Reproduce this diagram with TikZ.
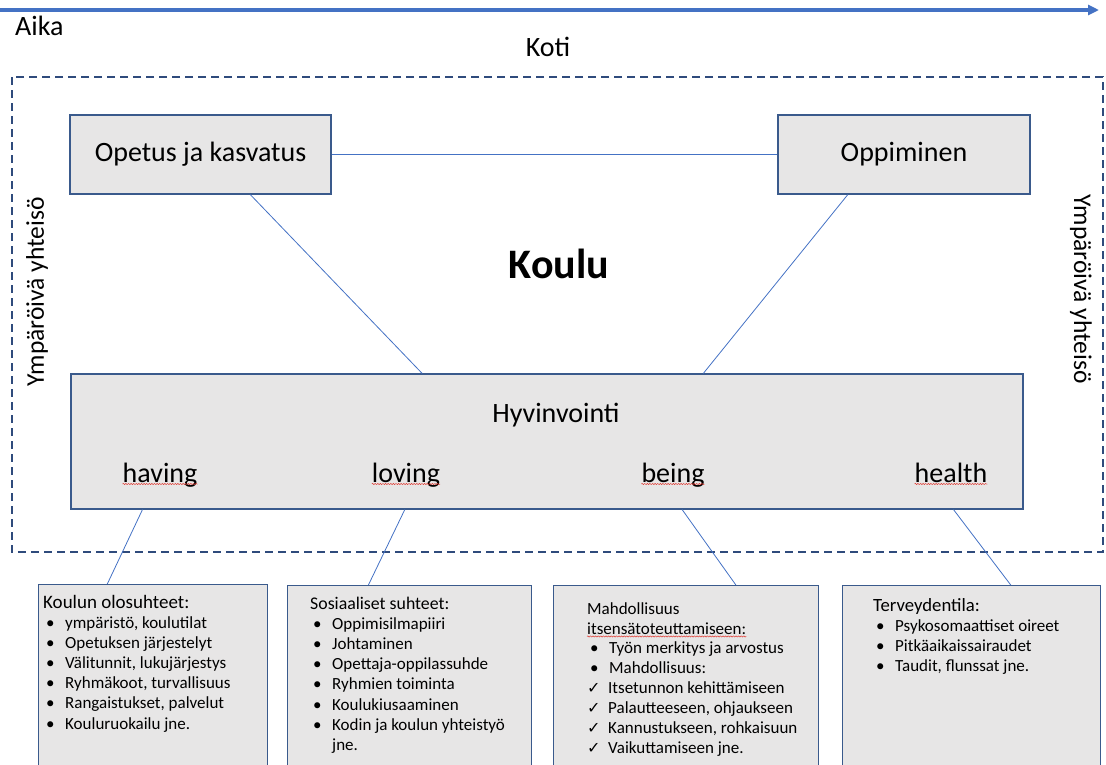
\documentclass[tikz,border=0pt]{standalone}
\usepackage{fontspec}
\setmainfont{Carlito}
\newfontfamily\symfont{DejaVu Sans}
\usetikzlibrary{arrows.meta,calc,decorations.pathmorphing,positioning}

\definecolor{boxfill}{HTML}{E7E6E6}
\definecolor{boxline}{HTML}{3A5A8C}
\definecolor{linkblue}{HTML}{4472C4}
\definecolor{framenavy}{HTML}{2F4B7C}
\definecolor{spellred}{HTML}{E03A32}

\newcommand\itm[1]{\hspace*{3pt}\makebox[19pt][l]{•}#1}
\newcommand\chk[1]{\makebox[21pt][l]{{\symfont\fontsize{16}{16}\selectfont ✓}}#1}
\newcommand\otsikko[2]{{\fontsize{#1}{20}\selectfont #2}}

\tikzset{
  iso/.style={inner sep=0pt, font=\fontsize{28}{34}\selectfont},
  sivu/.style={inner sep=0pt, font=\fontsize{25.5}{30}\selectfont},
  bigbox/.style={draw=boxline, fill=boxfill, line width=1.2pt, inner sep=0pt, font=\fontsize{28}{34}\selectfont},
  listbox/.style={draw=boxline, fill=boxfill, line width=1.2pt, anchor=north west, inner sep=0pt, minimum height=220},
  listtext/.style={anchor=north west, inner sep=0pt, align=left, font=\fontsize{17}{20.1}\selectfont},
  link/.style={draw=linkblue, line width=0.8pt},
  kehys/.style={draw=framenavy, line width=1.4pt, dash pattern=on 8pt off 5pt},
  aikanuoli/.style={draw=linkblue, line width=3.5pt, -{Triangle[length=11pt,width=10pt]}},
  squiggle/.style={draw=spellred, line width=0.5pt, decorate, decoration={snake, amplitude=0.6pt, segment length=2.6pt}},
}

\begin{document}
\begin{tikzpicture}[x=1pt,y=-1pt]
\useasboundingbox (0,0) rectangle (1106,764);

% aika ja koti
\coordinate (alku) at (0,10);
\coordinate (loppu) at (1099,10);
\draw[aikanuoli] (alku) -- (loppu);
\node[iso, anchor=base west] (aika) at (15,35) {Aika};
\node[iso, anchor=base] (koti) at (548,56) {Koti};

% ymparoiva yhteiso
\draw[kehys] (12,77) rectangle (1103,552);
\node[sivu, rotate=90] (yhteiso1) at (37,292) {Ympäröivä yhteisö};
\node[sivu, rotate=-90] (yhteiso2) at (1081,289) {Ympäröivä yhteisö};

% koulu
\node[bigbox, minimum width=261, minimum height=79] (opetus) at (200.5,154.5) {Opetus ja kasvatus};
\node[bigbox, minimum width=252, minimum height=79] (oppiminen) at (904,154.5) {Oppiminen};
\node[inner sep=0pt, font=\bfseries\fontsize{42}{50}\selectfont, anchor=base] (koulu) at (559,278) {Koulu};
\node[bigbox, minimum width=952, minimum height=135] (hyv) at (547,441.5) {};
\node[iso, anchor=base] (hyvotsikko) at (556,422) {Hyvinvointi};
\node[iso, anchor=base] (having) at (160,482) {having};
\node[iso, anchor=base] (loving) at (406,482) {loving};
\node[iso, anchor=base] (being) at (673,482) {being};
\node[iso, anchor=base] (health) at (951,482) {health};
\foreach \n in {having,loving,being,health}
  \draw[squiggle] ([shift={(0,2)}]\n.base west) -- ([shift={(0,2)}]\n.base east);

\draw[link] (opetus.east) -- (oppiminen.west);
\draw[link] ($(opetus.south west)!0.69!(opetus.south east)$) -- ($(hyv.north west)!0.369!(hyv.north east)$);
\draw[link] ($(oppiminen.south west)!0.278!(oppiminen.south east)$) -- ($(hyv.north west)!0.664!(hyv.north east)$);

% osa-alueet
\node[listbox, minimum width=229] (olosuhteet) at (38,584) {};
\node[listbox, minimum width=244] (suhteet) at (287,585) {};
\node[listbox, minimum width=265] (itsensa) at (553,585) {};
\node[listbox, minimum width=258] (terveys) at (842,585) {};

\node[listtext] (olosuhteetteksti) at ([shift={(5,11)}]olosuhteet.north west) {\otsikko{19}{Koulun olosuhteet:}\\
  \itm{ympäristö, koulutilat}\\
  \itm{Opetuksen järjestelyt}\\
  \itm{Välitunnit, lukujärjestys}\\
  \itm{Ryhmäkoot, turvallisuus}\\
  \itm{Rangaistukset, palvelut}\\
  \itm{Kouluruokailu jne.}};
\node[listtext] (suhteetteksti) at ([shift={(23,12)}]suhteet.north west) {\otsikko{17.8}{Sosiaaliset suhteet:}\\
  \itm{Oppimisilmapiiri}\\
  \itm{Johtaminen}\\
  \itm{Opettaja-oppilassuhde}\\
  \itm{Ryhmien toiminta}\\
  \itm{Koulukiusaaminen}\\
  \itm{Kodin ja koulun yhteistyö}\\
  \hspace*{22pt}jne.};
\node[listtext] (itsensaotsikko) at ([shift={(34,17)}]itsensa.north west) {Mahdollisuus\\itsensätoteuttamiseen:};
\draw[squiggle] ([shift={(0,2)}]itsensaotsikko.south west) -- ([shift={(0,2)}]itsensaotsikko.south east);
\node[listtext] (itsensateksti) at ([shift={(0,7)}]itsensaotsikko.south west) {\itm{Työn merkitys ja arvostus}\\
  \itm{Mahdollisuus:}\\
  \chk{Itsetunnon kehittämiseen}\\
  \chk{Palautteeseen, ohjaukseen}\\
  \chk{Kannustukseen, rohkaisuun}\\
  \chk{Vaikuttamiseen jne.}};
\node[listtext] (terveysteksti) at ([shift={(31,13)}]terveys.north west) {\otsikko{18.7}{Terveydentila:}\\
  \itm{Psykosomaattiset oireet}\\
  \itm{Pitkäaikaissairaudet}\\
  \itm{Taudit, flunssat jne.}};

\draw[link] ($(hyv.south west)!0.0756!(hyv.south east)$) -- ($(olosuhteet.north west)!0.301!(olosuhteet.north east)$);
\draw[link] ($(hyv.south west)!0.3508!(hyv.south east)$) -- ($(suhteet.north west)!0.332!(suhteet.north east)$);
\draw[link] ($(hyv.south west)!0.6418!(hyv.south east)$) -- ($(itsensa.north west)!0.687!(itsensa.north east)$);
\draw[link] ($(hyv.south west)!0.9265!(hyv.south east)$) -- ($(terveys.north west)!0.651!(terveys.north east)$);
\end{tikzpicture}
\end{document}
